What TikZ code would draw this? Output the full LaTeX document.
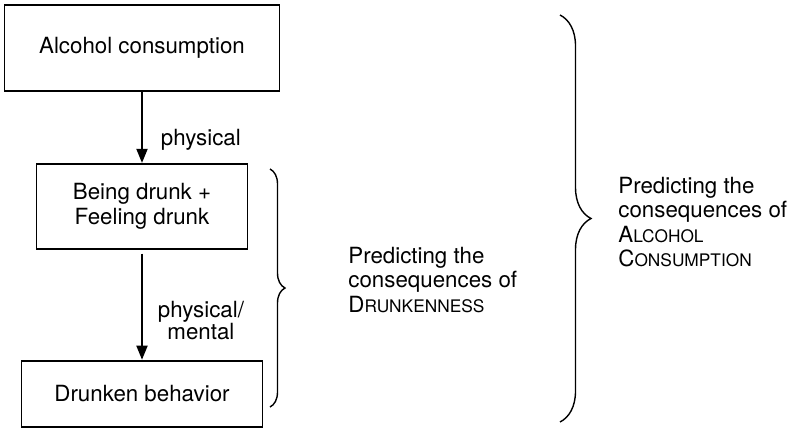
\documentclass[tikz,border=0pt]{standalone}
\usepackage{fontspec}
\setmainfont{TeX Gyre Heros}
\usepackage{tikz}
\usetikzlibrary{positioning, arrows.meta, decorations.pathreplacing}
\newcommand{\fakesc}[2]{#1{\fontsize{8.65pt}{12pt}\selectfont #2}}

\begin{document}
\begin{tikzpicture}[
    stage/.style={rectangle, draw, line width=0.9pt, align=center, minimum height=43pt, font=\fontsize{11.15pt}{12.5pt}\selectfont},
    arrow/.style={-{Triangle[length=7pt, width=5.5pt]}, line width=0.9pt},
    edgelabel/.style={inner sep=0pt, font=\fontsize{11.15pt}{11pt}\selectfont, align=center},
    note/.style={inner sep=0pt, anchor=north west, align=left, font=\fontsize{11.15pt}{12.1pt}\selectfont},
    bracket/.style={decorate, decoration={brace, amplitude=#1}, line width=0.7pt}
]
\useasboundingbox (0,0) rectangle (395pt,-214.5pt);

\node[stage, minimum width=137.5pt] (conc) at (71pt,-24pt) {Alcohol consumption};
\node[stage, minimum width=105.5pt, minimum height=42.5pt, below=35.5pt of conc] (drunk) {Being drunk +\\Feeling drunk};
\node[stage, minimum width=120.5pt, minimum height=33pt, below=55pt of drunk] (behav) {Drunken behavior};

\draw[arrow] (conc) -- node[edgelabel, pos=0.75, anchor=base west, xshift=9pt] (phys) {physical} (drunk);
\draw[arrow, shorten <=2pt] (drunk) -- node[edgelabel, pos=0.64, anchor=west, xshift=7.5pt] (physment) {physical/\\mental} (behav);

\coordinate (b1top) at (135pt,-84.5pt);
\coordinate (b1bot) at (135pt,-203.5pt);
\coordinate (b2top) at (280pt,-7.5pt);
\coordinate (b2bot) at (280pt,-211pt);
\draw[bracket=7.5pt] (b1top) -- (b1bot);
\draw[bracket=15.5pt] (b2top) -- (b2bot);

\node[note] (drunkcons) at (174pt,-123.5pt) {Predicting the\\consequences of\\\fakesc{D}{RUNKENNESS}};
\node[note] (alccons) at (309pt,-88.5pt) {Predicting the\\consequences of\\\fakesc{A}{LCOHOL}\\\fakesc{C}{ONSUMPTION}};
\end{tikzpicture}
\end{document}
